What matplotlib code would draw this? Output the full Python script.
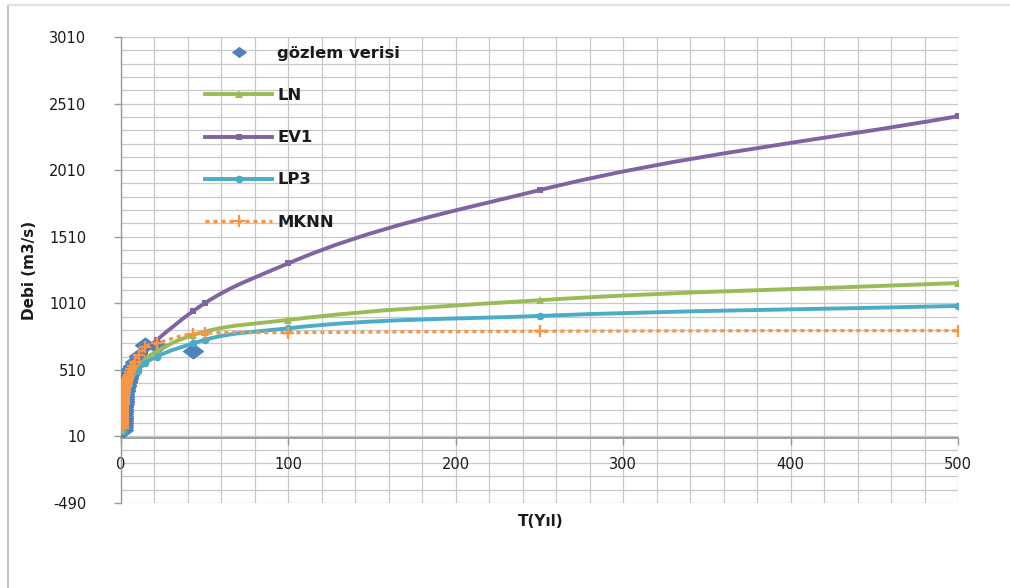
import numpy as np
import matplotlib
matplotlib.use("Agg")
import matplotlib.pyplot as plt
from matplotlib.path import Path
from matplotlib.patches import PathPatch
from matplotlib.lines import Line2D

plt.rcParams["font.family"] = ["DejaVu Sans"]
plt.rcParams["axes.unicode_minus"] = False

# gözlem verisi: yinelenme süresi (yıl) ve debi (m3/s)
T_obs = [1.02, 1.05, 1.07, 1.10, 1.13, 1.16, 1.19, 1.23, 1.26, 1.30, 1.34, 1.39,
         1.43, 1.48, 1.54, 1.59, 1.65, 1.72, 1.79, 1.87, 1.95, 2.05, 2.15, 2.26,
         2.39, 2.53, 2.69, 2.87, 3.07, 3.31, 3.58, 3.91, 4.30, 4.78, 5.38, 6.14,
         7.17, 8.60, 10.75, 14.33, 21.50, 43.00]
Q_obs = [60, 80, 98, 113, 127, 140, 152, 165, 177, 190, 202, 215,
         228, 240, 252, 265, 278, 290, 303, 316, 330, 340, 350, 360,
         370, 380, 390, 400, 410, 420, 430, 442, 455, 470, 490, 515,
         540, 570, 615, 700, 690, 655]

# dağılım modelleri
T_fit = [1.02, 1.11, 1.25, 1.43, 1.67, 2, 2.5, 3.33, 5, 10, 14.33, 21.5,
         43, 50, 100, 250, 500]
Q_ln = [55, 120, 165, 200, 232, 268, 310, 360, 425, 530, 590, 650,
        772, 797, 885, 1033, 1162]
Q_ev1 = [50, 125, 175, 215, 255, 300, 345, 400, 470, 590, 655, 735,
         950, 1010, 1310, 1860, 2415]
Q_lp3 = [50, 110, 150, 185, 215, 250, 290, 335, 400, 505, 560, 610,
         708, 735, 822, 915, 990]

# MKNN tahminleri
T_mknn = T_obs + [50, 100, 250, 500]
Q_mknn = [70, 88, 102, 116, 130, 142, 155, 167, 180, 192, 204, 217,
          229, 241, 254, 266, 279, 291, 304, 317, 330, 341, 351, 361,
          371, 381, 391, 401, 411, 421, 431, 443, 456, 472, 492, 516,
          542, 572, 618, 680, 710, 780, 785, 790, 800, 805]

C_OBS = "#4F81BD"
C_LN = "#9BBB59"
C_EV1 = "#8064A2"
C_LP3 = "#4BACC6"
C_MKNN = "#F79646"

# yatay basık baklava dilimi işaretçi
diamond = Path([(-1, 0), (0, 0.74), (1, 0), (0, -0.74), (-1, 0)],
               [Path.MOVETO, Path.LINETO, Path.LINETO, Path.LINETO, Path.CLOSEPOLY])


def smooth_path(xs, ys):
    # noktalardan geçen yumuşak Bezier eğrisi
    x = np.asarray(xs, float)
    y = np.asarray(ys, float)
    h = np.diff(x)
    d = np.diff(y) / h
    m = np.empty_like(y)
    m[0], m[-1] = d[0], d[-1]
    for i in range(1, len(x) - 1):
        if d[i - 1] * d[i] <= 0:
            m[i] = 0
        else:
            m[i] = (d[i - 1] * h[i] + d[i] * h[i - 1]) / (h[i - 1] + h[i])
    verts = [(x[0], y[0])]
    codes = [Path.MOVETO]
    for i in range(len(x) - 1):
        verts += [(x[i] + h[i] / 3, y[i] + m[i] * h[i] / 3),
                  (x[i + 1] - h[i] / 3, y[i + 1] - m[i + 1] * h[i] / 3),
                  (x[i + 1], y[i + 1])]
        codes += [Path.CURVE4] * 3
    return Path(verts, codes)


def main():
    fig = plt.figure(figsize=(10.10, 5.88), dpi=100)
    ax = fig.add_axes([121 / 1010, 1 - 503 / 588, 837 / 1010, 466 / 588])

    ax.set_xlim(0, 500)
    ax.set_ylim(-490, 3010)

    # ızgara
    for gx in range(0, 501, 20):
        ax.axvline(gx, color="#c8c8c8", lw=0.9, zorder=0)
    for gy in range(-490, 3011, 100):
        ax.axhline(gy, color="#c8c8c8", lw=0.9, zorder=0)

    ax.plot(T_obs, Q_obs, linestyle="none", marker=diamond, markersize=14.5,
            color=C_OBS, markeredgewidth=0.8, zorder=3)

    series = [
        (T_fit, Q_ln, C_LN, "^", 6),
        (T_fit, Q_ev1, C_EV1, "s", 5),
        (T_fit, Q_lp3, C_LP3, "o", 5.5),
    ]
    for tx, qy, col, mk, ms in series:
        ax.add_patch(PathPatch(smooth_path(tx, qy), facecolor="none", edgecolor=col,
                               lw=2.8, capstyle="round", joinstyle="round", zorder=4))
        ax.plot(tx, qy, linestyle="none", marker=mk, markersize=ms, color=col,
                markeredgewidth=0, zorder=4)

    ax.add_patch(PathPatch(smooth_path(T_mknn, Q_mknn), facecolor="none",
                           edgecolor=C_MKNN, lw=2.4, linestyle=(0, (1.2, 1.2)),
                           capstyle="butt", zorder=5))
    ax.plot(T_mknn, Q_mknn, linestyle="none", marker="+", markersize=8.5,
            markeredgewidth=1.7, color=C_MKNN, zorder=5)

    # eksenler
    for s in ["top", "right"]:
        ax.spines[s].set_visible(False)
    ax.spines["left"].set_color("#9a9a9a")
    ax.spines["left"].set_linewidth(1.0)
    ax.spines["bottom"].set_position(("data", 0))
    ax.spines["bottom"].set_color("#9a9a9a")
    ax.spines["bottom"].set_linewidth(1.3)

    ax.set_yticks(range(-490, 3011, 500))
    ax.set_xticks(range(0, 501, 100))
    ax.tick_params(axis="y", direction="out", length=5, width=1.0, color="#9a9a9a",
                   pad=20, labelsize=10.5, labelcolor="#1a1a1a")
    ax.tick_params(axis="x", direction="out", length=5, width=1.0, color="#9a9a9a",
                   pad=9, labelsize=10.5, labelcolor="#1a1a1a")

    fig.text(541 / 1010, 1 - 521 / 588, "T(Yıl)", ha="center", va="center",
             fontsize=11, fontweight="bold", color="#1a1a1a")
    fig.text(30 / 1010, 1 - 270 / 588, "Debi (m3/s)", ha="center", va="center",
             rotation=90, fontsize=11, fontweight="bold", color="#1a1a1a")

    handles = [
        Line2D([], [], linestyle="none", marker=diamond, markersize=11, color=C_OBS,
               markeredgewidth=0),
        Line2D([], [], color=C_LN, lw=2.8, marker="^", markersize=6, markeredgewidth=0),
        Line2D([], [], color=C_EV1, lw=2.8, marker="s", markersize=5, markeredgewidth=0),
        Line2D([], [], color=C_LP3, lw=2.8, marker="o", markersize=5.5, markeredgewidth=0),
        Line2D([], [], color=C_MKNN, lw=2.4, linestyle=(0, (1.2, 1.2)), marker="+",
               markersize=8, markeredgewidth=1.6),
    ]
    labels = ["gözlem verisi", "LN", "EV1", "LP3", "MKNN"]
    ax.legend(handles, labels, loc="upper left", bbox_to_anchor=(0.1004, 0.981),
              frameon=False, borderpad=0, borderaxespad=0, handlelength=4.1,
              handletextpad=0.3, labelspacing=1.66,
              prop={"size": 11.8, "weight": "bold"}, labelcolor="#1a1a1a")

    # çerçeve çizgileri
    fig.add_artist(Line2D([8 / 1010, 8 / 1010], [0, 1 - 5 / 588], color="#c0c0c0",
                          lw=1.5, transform=fig.transFigure))
    fig.add_artist(Line2D([8 / 1010, 1], [1 - 5 / 588, 1 - 5 / 588], color="#e2e2e2",
                          lw=1.5, transform=fig.transFigure))

    fig.savefig("out.png", dpi=100)


if __name__ == "__main__":
    main()
